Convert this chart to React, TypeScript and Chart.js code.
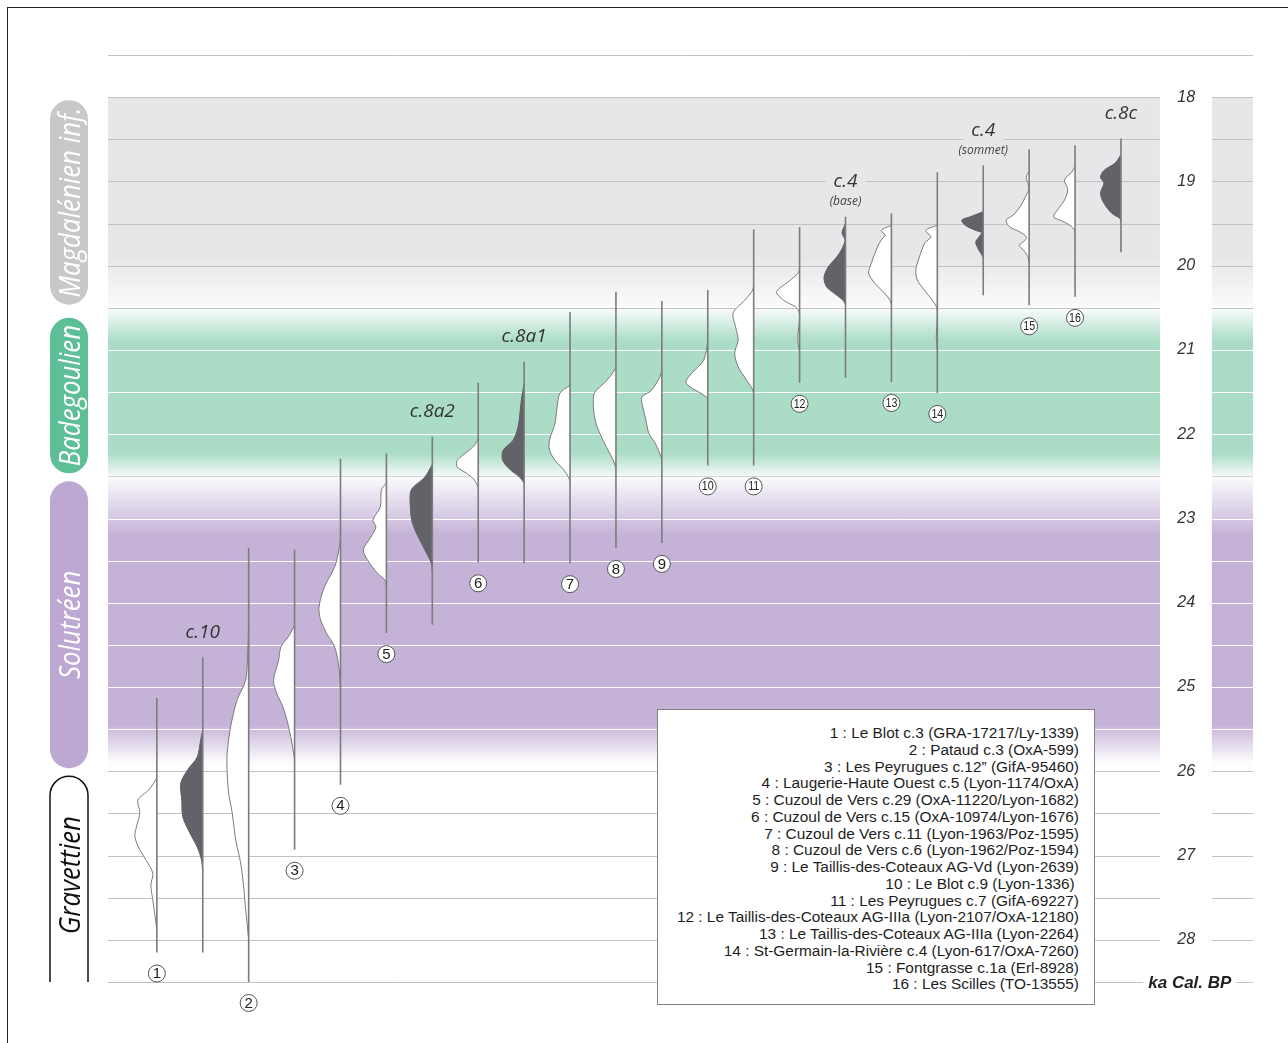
import React, { useEffect, useRef } from 'react';
import { Chart, registerables } from 'chart.js';

Chart.register(...registerables);

// ---------------- DATA ----------------
// One column per calibrated date (left to right). Ages in ka cal BP.
const siteNumbers: (number | null)[] = [1, null, 2, 3, 4, 5, null, 6, null, 7, 8, 9, 10, 11, 12, null, 13, 14, null, 15, 16, null];
const layerLabels: string[] = ['', 'c.10', '', '', '', '', 'c.8a2', '', 'c.8a1', '', '', '', '', '', '', 'c.4', '', '', 'c.4', '', '', 'c.8c'];
const layerSubLabels: string[] = ['', '', '', '', '', '', '', '', '', '', '', '', '', '', '', '(base)', '', '', '(sommet)', '', '', ''];
// Laugerie-Haute reference layers (drawn dark)
const isReferenceLayer: boolean[] = [false, true, false, false, false, false, true, false, true, false, false, false, false, false, false, true, false, false, true, false, false, true];
// extent of each calibrated range (young end, old end)
const rangeStart: number[] = [25.13, 24.65, 23.35, 23.37, 22.29, 22.23, 22.03, 21.39, 21.14, 20.55, 20.31, 20.42, 20.29, 19.57, 19.54, 19.42, 19.38, 18.89, 18.81, 18.62, 18.57, 18.49];
const rangeEnd: number[] = [28.15, 28.15, 28.5, 26.93, 26.16, 24.36, 24.26, 23.52, 23.53, 23.53, 23.35, 23.29, 22.37, 22.37, 21.39, 21.33, 21.38, 21.51, 20.35, 20.47, 20.37, 19.84];

// probability curves: [age ka, relative probability]
const curve01 = [[26.08, 0], [26.22, 8], [26.34, 19], [26.49, 17], [26.64, 20], [26.77, 22], [26.91, 18], [27.05, 11], [27.21, 4], [27.35, 6], [27.53, 4], [27.7, 2], [27.88, 0]];
const curve02 = [[25.52, 0], [25.62, 2], [25.83, 5.5], [25.98, 15], [26.14, 22], [26.34, 21], [26.54, 20], [26.73, 13], [26.9, 5.5], [27.05, 1.3], [27.21, 0]];
const curve03 = [[24.3, 0], [24.6, 1], [24.92, 3], [25.15, 11.5], [25.47, 18], [25.78, 21.5], [26.02, 21.5], [26.26, 20], [26.49, 16.5], [26.81, 13], [27.09, 8], [27.37, 5], [27.61, 3.3], [27.8, 1.6], [28.0, 0]];
const curve04 = [[24.27, 0], [24.4, 6], [24.52, 13.5], [24.68, 16], [24.92, 21], [25.07, 18], [25.24, 11.5], [25.47, 6], [25.71, 2], [25.86, 0]];
const curve05 = [[23.25, 0], [23.4, 2], [23.58, 6], [23.81, 16], [24.05, 21.5], [24.2, 20], [24.36, 14], [24.52, 6], [24.76, 1.6], [25.0, 0]];
const curve06 = [[22.58, 0], [22.66, 5], [22.86, 6], [23.02, 13.5], [23.1, 10.5], [23.22, 15.5], [23.37, 23], [23.49, 19], [23.65, 9], [23.73, 1.6], [23.81, 0]];
const curve07 = [[22.36, 0], [22.51, 7.5], [22.66, 21], [22.86, 22], [23.05, 20], [23.22, 14], [23.37, 7.5], [23.53, 1], [23.65, 0]];
const curve08 = [[22.05, 0], [22.12, 3], [22.19, 9], [22.31, 21], [22.39, 21], [22.46, 12], [22.54, 4], [22.63, 0]];
const curve09 = [[21.4, 0], [21.59, 2.7], [21.91, 6], [22.07, 11], [22.19, 21], [22.31, 21.5], [22.42, 14], [22.51, 4.3], [22.58, 0]];
const curve10 = [[21.42, 0], [21.51, 10], [21.68, 13], [21.87, 15], [22.07, 20.5], [22.19, 20.5], [22.31, 15], [22.42, 6.5], [22.51, 1.6], [22.56, 0]];
const curve11 = [[21.2, 0], [21.27, 3], [21.39, 11.5], [21.51, 21.5], [21.68, 22.5], [21.87, 20], [22.07, 13], [22.22, 6.5], [22.34, 1.6], [22.42, 0]];
const curve12 = [[21.25, 0], [21.32, 2], [21.48, 10.5], [21.56, 20], [21.68, 19], [21.83, 16], [21.99, 13], [22.1, 7], [22.22, 2.3], [22.31, 0]];
const curve13 = [[20.9, 0], [21.12, 4], [21.27, 15.5], [21.38, 22], [21.44, 17.5], [21.51, 7.5], [21.57, 0.5], [21.62, 0]];
const curve14 = [[20.2, 0], [20.29, 1], [20.41, 9], [20.56, 20.5], [20.73, 18], [20.88, 15.5], [21.04, 19], [21.2, 15.5], [21.36, 7], [21.48, 0.7], [21.55, 0]];
const curve15 = [[20.0, 0], [20.08, 1], [20.17, 9], [20.31, 23], [20.41, 16], [20.49, 4], [20.55, 0.5], [20.65, 0], [20.8, 1.5], [20.92, 1.5], [21.02, 0]];
const curve16 = [[19.5, 0], [19.61, 3.5], [19.7, 0.5], [19.81, 4], [19.9, 9], [20.02, 17.5], [20.14, 21.5], [20.25, 19], [20.33, 11], [20.41, 2.5], [20.46, 0]];
const curve17 = [[19.52, 0], [19.58, 10], [19.64, 6.5], [19.7, 10.5], [19.78, 14], [19.9, 18], [20.02, 21.5], [20.09, 23], [20.21, 16.5], [20.33, 6.5], [20.41, 1.5], [20.46, 0]];
const curve18 = [[19.52, 0], [19.58, 11.5], [19.66, 6.5], [19.73, 12.5], [19.9, 18], [20.05, 21.5], [20.17, 20], [20.29, 13], [20.41, 5], [20.5, 0.5], [20.6, 0], [20.85, 1], [21.0, 0]];
const curve19 = [[19.36, 0], [19.42, 13], [19.46, 21.5], [19.52, 18], [19.58, 8], [19.61, 1.7], [19.66, 4.3], [19.72, 7.5], [19.79, 5.5], [19.87, 1.5], [19.91, 0]];
const curve20 = [[18.88, 0], [18.95, 3], [19.03, 1], [19.1, 0.5], [19.19, 4], [19.3, 9], [19.4, 16], [19.46, 23], [19.54, 19.5], [19.6, 9], [19.66, 2.7], [19.7, 4.3], [19.76, 10], [19.81, 6], [19.9, 1], [19.97, 0]];
const curve21 = [[18.82, 0], [18.89, 3.3], [18.98, 10.5], [19.1, 7.3], [19.22, 10.5], [19.32, 16.5], [19.42, 21.5], [19.46, 15], [19.52, 5], [19.58, 0.7], [19.62, 0]];
const curve22 = [[18.68, 0], [18.78, 5.5], [18.87, 17], [18.95, 20.5], [19.02, 17], [19.14, 20.5], [19.26, 17], [19.38, 9], [19.44, 1], [19.48, 0]];
const curves = [curve01, curve02, curve03, curve04, curve05, curve06, curve07, curve08, curve09, curve10, curve11, curve12, curve13, curve14, curve15, curve16, curve17, curve18, curve19, curve20, curve21, curve22];

// axis
const yTickLabels: number[] = [18, 19, 20, 21, 22, 23, 24, 25, 26, 27, 28];
const axisTitle = 'ka Cal. BP';

// cultural periods
const periodNames: string[] = ['Magdalénien inf.', 'Badegoulien', 'Solutréen', 'Gravettien'];
const periodStart: number[] = [18.0, 20.5, 22.5, 26.0];
const periodEnd: number[] = [20.5, 22.5, 26.0, 28.5];

const legendEntries: string[] = [
  '1 : Le Blot c.3 (GRA-17217/Ly-1339)',
  '2 : Pataud c.3 (OxA-599)',
  '3 : Les Peyrugues c.12” (GifA-95460)',
  '4 : Laugerie-Haute Ouest c.5 (Lyon-1174/OxA)',
  '5 : Cuzoul de Vers c.29 (OxA-11220/Lyon-1682)',
  '6 : Cuzoul de Vers c.15 (OxA-10974/Lyon-1676)',
  '7 : Cuzoul de Vers c.11 (Lyon-1963/Poz-1595)',
  '8 : Cuzoul de Vers c.6 (Lyon-1962/Poz-1594)',
  '9 : Le Taillis-des-Coteaux AG-Vd (Lyon-2639)',
  '10 : Le Blot c.9 (Lyon-1336) ',
  '11 : Les Peyrugues c.7 (GifA-69227)',
  '12 : Le Taillis-des-Coteaux AG-IIIa (Lyon-2107/OxA-12180)',
  '13 : Le Taillis-des-Coteaux AG-IIIa (Lyon-2264)',
  '14 : St-Germain-la-Rivière c.4 (Lyon-617/OxA-7260)',
  '15 : Fontgrasse c.1a (Erl-8928)',
  '16 : Les Scilles (TO-13555)',
];

// ---------------- LAYOUT / STYLE ----------------
const W = 1288;
const H = 1043;
const Y_MIN = 17.5;
const Y_MAX = 28.5;
const X_MIN = -0.064;
const X_MAX = 24.876;
const PLOT_END_X = 22.85;
const STRIP_START_X = 23.98;
const TICK_X = 23.42;
const TITLE_X = 23.5;
const DENSITY_SCALE = 1 / 45.91;
const LABEL_GAP = 21;

const GREY_BAND = '#e6e7e9';
const GREEN_BAND = '#aadcc6';
const PURPLE_BAND = '#c4b2d7';
const pillColors = ['#c7c8ca', '#5ebf96', '#bca8d3', '#ffffff'];
const TXT = '#333333';

function bandGradient(ctx: CanvasRenderingContext2D, idx: number, y0: number, y1: number) {
  const g = ctx.createLinearGradient(0, y0, 0, y1);
  if (idx === 0) {
    g.addColorStop(0, GREY_BAND);
    g.addColorStop(0.76, GREY_BAND);
    g.addColorStop(1, '#fbfbfb');
  } else if (idx === 1) {
    g.addColorStop(0, '#fbfdfc');
    g.addColorStop(0.2, GREEN_BAND);
    g.addColorStop(0.86, GREEN_BAND);
    g.addColorStop(1, '#f4faf7');
  } else {
    g.addColorStop(0, '#fcfbfd');
    g.addColorStop(0.2, PURPLE_BAND);
    g.addColorStop(0.84, PURPLE_BAND);
    g.addColorStop(0.97, '#fdfcfe');
    g.addColorStop(1, '#ffffff');
  }
  return g;
}

const backgroundPlugin = {
  id: 'periodBackground',
  beforeDatasetsDraw(chart: any) {
    const { ctx, chartArea: a, scales } = chart;
    const x = scales.x;
    const y = scales.y;
    const plotRight = x.getPixelForValue(PLOT_END_X);
    const stripLeft = x.getPixelForValue(STRIP_START_X);
    const segs: [number, number][] = [[a.left, plotRight], [stripLeft, a.right]];
    ctx.save();
    for (let i = 0; i < 3; i++) {
      const y0 = y.getPixelForValue(periodStart[i]);
      const y1 = y.getPixelForValue(periodEnd[i]);
      ctx.fillStyle = bandGradient(ctx, i, y0, y1);
      for (const [s0, s1] of segs) ctx.fillRect(s0, y0, s1 - s0, y1 - y0);
    }
    // grid lines every 0.5 ka
    ctx.lineWidth = 1;
    for (let k = 0; k <= (Y_MAX - Y_MIN) * 2; k++) {
      const v = Y_MIN + k * 0.5;
      const py = Math.round(y.getPixelForValue(v)) + 0.5;
      const inColour = v > periodStart[1] && v < periodEnd[2] && v !== periodEnd[1];
      ctx.strokeStyle = inColour ? 'rgba(255,255,255,0.95)' : (v === periodEnd[1] ? '#d4d4d4' : '#c2c2c2');
      ctx.beginPath();
      if (k === 0 || v === Y_MAX) {
        ctx.moveTo(a.left, py);
        ctx.lineTo(a.right, py);
      } else {
        for (const [s0, s1] of segs) {
          ctx.moveTo(s0, py);
          ctx.lineTo(s1, py);
        }
      }
      ctx.stroke();
    }
    ctx.restore();
  },
};

function pillPath(ctx: CanvasRenderingContext2D, x0: number, x1: number, y0: number, y1: number, open: boolean) {
  const r = (x1 - x0) / 2;
  ctx.beginPath();
  if (open) {
    ctx.moveTo(x0, y1);
    ctx.lineTo(x0, y0 + r);
    ctx.arc(x0 + r, y0 + r, r, Math.PI, 0);
    ctx.lineTo(x1, y1);
  } else {
    ctx.moveTo(x0, y0 + r);
    ctx.arc(x0 + r, y0 + r, r, Math.PI, 0);
    ctx.lineTo(x1, y1 - r);
    ctx.arc(x0 + r, y1 - r, r, 0, Math.PI);
    ctx.closePath();
  }
}

const annotationPlugin = {
  id: 'annotations',
  afterDatasetsDraw(chart: any) {
    const { ctx, chartArea: a, scales } = chart;
    const x = scales.x;
    const y = scales.y;
    ctx.save();

    // circled site numbers
    siteNumbers.forEach((n, i) => {
      if (n === null) return;
      const cx = x.getPixelForValue(i + 1);
      const cy = y.getPixelForValue(rangeEnd[i]) + LABEL_GAP;
      ctx.beginPath();
      ctx.arc(cx, cy, 8.5, 0, Math.PI * 2);
      ctx.fillStyle = '#ffffff';
      ctx.fill();
      ctx.lineWidth = 1;
      ctx.strokeStyle = '#555555';
      ctx.stroke();
      ctx.fillStyle = '#222222';
      ctx.textAlign = 'center';
      ctx.textBaseline = 'middle';
      const s = String(n);
      if (s.length > 1) {
        ctx.save();
        ctx.translate(cx, cy + 0.5);
        ctx.scale(0.82, 1);
        ctx.font = '13px "Liberation Sans", Arial, sans-serif';
        ctx.fillText(s, 0, 0);
        ctx.restore();
      } else {
        ctx.font = '15px "Liberation Sans", Arial, sans-serif';
        ctx.fillText(s, cx, cy + 0.5);
      }
    });

    // layer labels
    layerLabels.forEach((lab, i) => {
      if (!lab) return;
      const cx = x.getPixelForValue(i + 1);
      const top = y.getPixelForValue(rangeStart[i]);
      const sub = layerSubLabels[i];
      ctx.textAlign = 'center';
      ctx.textBaseline = 'middle';
      const mainY = sub ? top - 35 : top - 25;
      ctx.font = 'italic 19px "Open Sans", "DejaVu Sans", sans-serif';
      if (sub) {
        const w = ctx.measureText(lab).width;
        ctx.fillStyle = GREY_BAND;
        ctx.fillRect(cx - w / 2 - 8, mainY - 11, w + 16, 22);
      }
      ctx.fillStyle = TXT;
      ctx.fillText(lab, cx, mainY);
      if (sub) {
        ctx.font = 'italic 12px "Open Sans", "DejaVu Sans", sans-serif';
        ctx.fillStyle = '#444444';
        ctx.fillText(sub, cx, top - 15);
      }
    });

    // y tick labels
    const tx = x.getPixelForValue(TICK_X);
    ctx.font = 'italic 16px "Liberation Sans", Arial, sans-serif';
    ctx.fillStyle = TXT;
    ctx.textAlign = 'center';
    ctx.textBaseline = 'middle';
    yTickLabels.forEach((v) => {
      ctx.fillText(String(v), tx, y.getPixelForValue(v));
    });

    // axis title
    const ttx = x.getPixelForValue(TITLE_X);
    const tty = y.getPixelForValue(Y_MAX);
    ctx.font = 'italic bold 17px "Liberation Sans", Arial, sans-serif';
    const tw = ctx.measureText(axisTitle).width;
    ctx.fillStyle = '#ffffff';
    ctx.fillRect(ttx - tw / 2 - 5, tty - 10, tw + 10, 20);
    ctx.fillStyle = '#222222';
    ctx.fillText(axisTitle, ttx, tty + 1);

    // period pills
    const px0 = a.left - 58;
    const px1 = a.left - 20;
    periodNames.forEach((name, i) => {
      const open = i === periodNames.length - 1;
      const y0 = y.getPixelForValue(periodStart[i]) + (i === 0 ? 3 : i === 1 ? 10 : 5);
      const y1 = open ? y.getPixelForValue(periodEnd[i]) : y.getPixelForValue(periodEnd[i]) - 3;
      pillPath(ctx, px0, px1, y0, y1, open);
      if (open) {
        ctx.fillStyle = '#ffffff';
        ctx.fill();
        ctx.lineWidth = 1.5;
        ctx.strokeStyle = '#111111';
        ctx.stroke();
      } else {
        ctx.fillStyle = pillColors[i];
        ctx.fill();
      }
      const cy = open ? (y0 + y1) / 2 - 4 : (y0 + y1) / 2;
      ctx.save();
      ctx.translate((px0 + px1) / 2 + 1, cy);
      ctx.rotate(-Math.PI / 2);
      ctx.scale(0.86, 1);
      ctx.font = 'italic 30px "Open Sans", "DejaVu Sans", sans-serif';
      ctx.fillStyle = open ? '#111111' : '#ffffff';
      ctx.textAlign = 'center';
      ctx.textBaseline = 'middle';
      ctx.fillText(name, 0, 1);
      ctx.restore();
    });

    ctx.restore();
  },
};

function buildDatasets() {
  const ds: any[] = [];
  curves.forEach((curve, i) => {
    const cx = i + 1;
    const dark = isReferenceLayer[i];
    ds.push({
      label: 'range ' + (i + 1),
      data: [{ x: cx, y: rangeStart[i] }, { x: cx, y: rangeEnd[i] }],
      borderColor: '#7c7c7c',
      borderWidth: 1.6,
      pointRadius: 0,
      fill: false,
      tension: 0,
      order: 0,
    });
    ds.push({
      label: 'density ' + (i + 1),
      data: curve.map(([age, p]) => ({ x: cx - p * DENSITY_SCALE, y: age })),
      borderColor: dark ? '#5f6065' : '#7a7a7a',
      backgroundColor: dark ? '#626368' : '#ffffff',
      borderWidth: 1,
      pointRadius: 0,
      fill: 'shape',
      tension: 0.3,
      order: 1,
    });
  });
  return ds;
}

export default function App() {
  const canvasRef = useRef<HTMLCanvasElement | null>(null);

  useEffect(() => {
    const canvas = canvasRef.current;
    if (!canvas) return;
    const chart = new Chart(canvas, {
      type: 'line',
      data: { datasets: buildDatasets() },
      options: {
        animation: false,
        responsive: false,
        devicePixelRatio: 1,
        layout: { padding: { left: 108, right: W - 1253, top: 55, bottom: H - 982 } },
        plugins: { legend: { display: false }, tooltip: { enabled: false } },
        events: [],
        scales: {
          x: { type: 'linear', min: X_MIN, max: X_MAX, display: false },
          y: { type: 'linear', min: Y_MIN, max: Y_MAX, reverse: true, display: false },
        },
      },
      plugins: [backgroundPlugin, annotationPlugin],
    } as any);
    return () => chart.destroy();
  }, []);

  return (
    <div style={{ position: 'absolute', left: 0, top: 0, width: W, height: H, background: '#ffffff', overflow: 'hidden' }}>
      <canvas ref={canvasRef} width={W} height={H} style={{ position: 'absolute', left: 0, top: 0 }} />
      <div
        style={{
          position: 'absolute', left: 7, top: 7, width: W - 7, height: H - 7,
          borderLeft: '1px solid #222', borderTop: '1px solid #222', boxSizing: 'border-box', pointerEvents: 'none',
        }}
      />
      <div
        style={{
          position: 'absolute', left: 657, top: 709, width: 438, height: 296, boxSizing: 'border-box',
          border: '1px solid #808080', background: '#ffffff', textAlign: 'right', paddingRight: 15, paddingTop: 15,
          font: '15.4px "Liberation Sans", Arial, sans-serif', lineHeight: '16.75px', color: '#1e1e1e', whiteSpace: 'pre',
        }}
      >
        {legendEntries.map((t, i) => (
          <div key={i}>{t}</div>
        ))}
      </div>
    </div>
  );
}
